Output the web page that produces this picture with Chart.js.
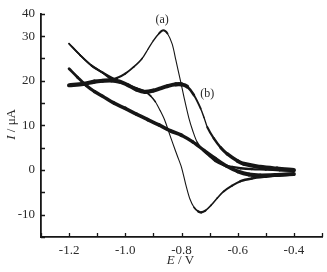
<!DOCTYPE html>
<html>
<head>
<meta charset="utf-8">
<script src="https://cdn.jsdelivr.net/npm/chart.js@4.4.1/dist/chart.umd.min.js"></script>
<style>
  html, body { margin: 0; padding: 0; background: #fff; }
  #box { width: 327px; height: 272px; }
</style>
</head>
<body>
<div id="box"><canvas id="cv"></canvas></div>
<script>
// curve (a): sweep from -0.4 V to -1.2 V, then back
const aFwdE = [-0.40, -0.45, -0.50, -0.55, -0.59, -0.62, -0.65, -0.68, -0.70, -0.72, -0.744, -0.76, -0.774, -0.79, -0.804, -0.82, -0.833, -0.85, -0.865, -0.88, -0.90, -0.92, -0.94, -0.97, -1.00, -1.03, -1.05, -1.08, -1.12, -1.16, -1.20];
const aFwdI = [-0.2, -0.05, 0.1, 0.2, 0.4, 0.7, 1.1, 2.0, 3.1, 4.2, 6.2, 8.8, 11.7, 16.0, 20.1, 24.6, 28.2, 30.6, 31.3, 30.6, 29.0, 27.0, 25.0, 23.1, 21.6, 20.6, 20.4, 21.8, 23.4, 25.7, 28.3];
const aRevE = [-1.20, -1.16, -1.12, -1.08, -1.04, -1.00, -0.96, -0.93, -0.91, -0.893, -0.875, -0.86, -0.845, -0.83, -0.815, -0.80, -0.785, -0.77, -0.755, -0.74, -0.73, -0.715, -0.695, -0.673, -0.65, -0.62, -0.59, -0.55, -0.50, -0.45, -0.40];
const aRevI = [28.3, 25.7, 23.4, 21.8, 20.4, 19.3, 18.3, 17.6, 16.6, 15.3, 13.2, 11.2, 8.5, 5.8, 3.2, 0.6, -3.2, -6.5, -8.4, -9.3, -9.5, -9.1, -7.9, -6.3, -4.8, -3.5, -2.5, -1.9, -1.5, -1.2, -1.0];

// curve (b)
const bFwdE = [-0.40, -0.46, -0.52, -0.578, -0.60, -0.637, -0.66, -0.685, -0.708, -0.72, -0.732, -0.756, -0.78, -0.80, -0.82, -0.85, -0.875, -0.90, -0.93, -0.96, -0.99, -1.02, -1.05, -1.08, -1.11, -1.15, -1.20];
const bFwdI = [0.0, 0.3, 0.7, 1.4, 2.0, 3.6, 5.0, 7.1, 9.6, 11.8, 13.8, 16.8, 18.7, 19.2, 19.2, 18.8, 18.3, 17.8, 17.5, 18.0, 19.0, 19.8, 20.1, 20.0, 19.8, 19.3, 19.0];
const bRevE = [-1.20, -1.17, -1.14, -1.11, -1.08, -1.04, -1.00, -0.96, -0.92, -0.88, -0.84, -0.80, -0.76, -0.72, -0.68, -0.64, -0.60, -0.56, -0.52, -0.46, -0.40];
const bRevI = [22.7, 20.8, 19.0, 17.6, 16.5, 15.0, 13.8, 12.5, 11.3, 10.1, 8.8, 7.8, 6.3, 4.4, 2.6, 0.9, -0.3, -1.0, -1.2, -1.1, -0.9];

const xTickValues = [-1.2, -1.0, -0.8, -0.6, -0.4];
const xTickLabels = ["-1.2", "-1.0", "-0.8", "-0.6", "-0.4"];
const yTickValues = [-10, 0, 10, 20, 30, 35];
const yTickLabels = ["-10", "0", "10", "20", "30", "40"];

const curveTags = ["(a)", "(b)"];
const curveTagE = [-0.869, -0.708];
const curveTagI = [33.7, 17.0];

const INK = "#161616";
const TEXT = "#2a2a2a";
const SERIF = "'Liberation Serif', 'DejaVu Serif', serif";

function toPoints(E, I) {
    return E.map((e, i) => ({ x: e, y: I[i] }));
}

// pen looks thick on flat parts, thin on steep parts
function penWidth(h) {
    return ctx => {
        const dx = ctx.p1.x - ctx.p0.x;
        const dy = ctx.p1.y - ctx.p0.y;
        const len = Math.hypot(dx, dy) || 1;
        return Math.max(1.1, h * Math.abs(dx) / len);
    };
}

function curve(E, I, h) {
    return {
        data: toPoints(E, I),
        showLine: true,
        borderColor: INK,
        borderWidth: h,
        borderCapStyle: "round",
        borderJoinStyle: "round",
        tension: 0.3,
        pointRadius: 0,
        segment: { borderWidth: penWidth(h) }
    };
}

const tickMarks = {
    id: "tickMarks",
    afterDatasetsDraw(chart) {
        const { ctx, chartArea: a, scales: { x, y } } = chart;
        ctx.save();
        ctx.strokeStyle = INK;
        ctx.lineWidth = 1.3;
        ctx.beginPath();
        for (let k = 0; k <= 10; k++) {
            const px = Math.round(x.getPixelForValue(-1.3 + k * 0.1)) + 0.5;
            ctx.moveTo(px, a.bottom);
            ctx.lineTo(px, a.bottom - 4);
        }
        for (let k = 0; k <= 10; k++) {
            const py = Math.round(y.getPixelForValue(-15 + k * 5)) + 0.5;
            ctx.moveTo(a.left, py);
            ctx.lineTo(a.left + 4, py);
        }
        ctx.stroke();
        ctx.restore();
    }
};

function drawMixed(ctx, parts, cx, cy) {
    let total = 0;
    parts.forEach(p => { ctx.font = p.font; p.w = ctx.measureText(p.t).width; total += p.w; });
    let x0 = cx - total / 2;
    parts.forEach(p => { ctx.font = p.font; ctx.fillText(p.t, x0, cy); x0 += p.w; });
}

const axisTitles = {
    id: "axisTitles",
    afterDraw(chart) {
        const { ctx, chartArea: a, scales: { x, y } } = chart;
        ctx.save();
        ctx.fillStyle = TEXT;
        ctx.textBaseline = "middle";
        ctx.textAlign = "left";
        const it = "italic 13px " + SERIF;
        const rm = "13px " + SERIF;
        drawMixed(ctx, [{ t: "E", font: it }, { t: " / V", font: rm }], (a.left + a.right) / 2 - 1, 261);
        ctx.translate(12, (a.top + a.bottom) / 2 - 1);
        ctx.rotate(-Math.PI / 2);
        drawMixed(ctx, [{ t: "I", font: it }, { t: " / μA", font: rm }], 0, 0);
        ctx.restore();

        ctx.save();
        ctx.fillStyle = TEXT;
        ctx.font = "12px " + SERIF;
        ctx.textAlign = "center";
        ctx.textBaseline = "middle";
        curveTags.forEach((t, i) => {
            ctx.fillText(t, x.getPixelForValue(curveTagE[i]), y.getPixelForValue(curveTagI[i]));
        });
        ctx.restore();
    }
};

const tickFont = { family: SERIF, size: 13 };

new Chart(document.getElementById("cv"), {
    type: "scatter",
    data: {
        datasets: [
            curve(bFwdE, bFwdI, 4.2),
            curve(bRevE, bRevI, 4.0),
            curve(aFwdE, aFwdI, 2.4),
            curve(aRevE, aRevI, 2.4)
        ]
    },
    options: {
        responsive: true,
        maintainAspectRatio: false,
        animation: false,
        layout: { padding: { top: 9, right: 5, left: 0, bottom: 0 } },
        plugins: {
            legend: { display: false },
            tooltip: { enabled: false }
        },
        scales: {
            x: {
                type: "linear",
                min: -1.3,
                max: -0.3,
                afterBuildTicks: s => { s.ticks = xTickValues.map(v => ({ value: v })); },
                afterFit: s => { s.height = 35; },
                ticks: {
                    callback: (v, i) => xTickLabels[i],
                    padding: 6,
                    maxRotation: 0,
                    autoSkip: false,
                    color: TEXT,
                    font: tickFont
                },
                grid: { drawOnChartArea: false, drawTicks: false },
                border: { color: INK, width: 1.8 }
            },
            y: {
                type: "linear",
                min: -15,
                max: 35,
                afterBuildTicks: s => { s.ticks = yTickValues.map(v => ({ value: v })); },
                afterFit: s => { s.width = 41; },
                ticks: {
                    callback: (v, i) => yTickLabels[i],
                    padding: 6,
                    autoSkip: false,
                    color: TEXT,
                    font: tickFont
                },
                grid: { drawOnChartArea: false, drawTicks: false },
                border: { color: INK, width: 1.8 }
            }
        }
    },
    plugins: [tickMarks, axisTitles]
});
</script>
</body>
</html>
